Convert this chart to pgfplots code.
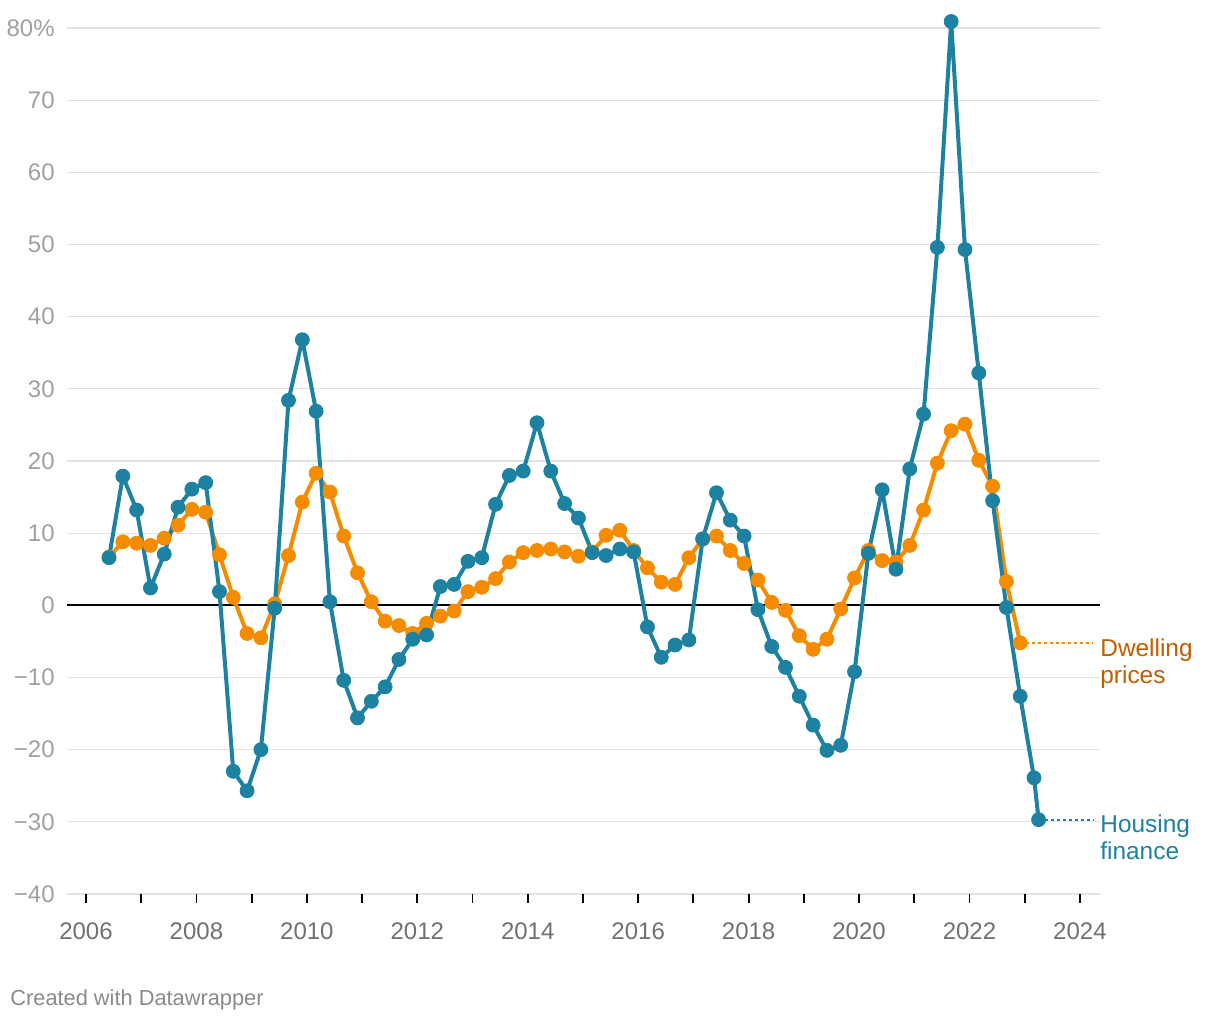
\documentclass[border=0pt]{standalone}
\usepackage{pgfplots}
\pgfplotsset{compat=1.18}
\usepackage{pgfplotstable}
\usepackage{fontspec}
\setmainfont{Liberation Sans}
\definecolor{hblue}{HTML}{1D81A2}
\definecolor{dorange}{HTML}{F58C00}
\definecolor{dtext}{HTML}{C45C00}
\definecolor{gridc}{HTML}{E2E2E2}
\definecolor{ylab}{HTML}{A0A0A0}
\definecolor{xlab}{HTML}{707070}
\definecolor{credit}{HTML}{8A8A8A}

\pgfplotstableread{
x y
2006.417 6.6
2006.667 17.9
2006.917 13.2
2007.167 2.4
2007.417 7.1
2007.667 13.6
2007.917 16.1
2008.167 17.0
2008.417 1.9
2008.667 -23.0
2008.917 -25.7
2009.167 -20.0
2009.417 -0.4
2009.667 28.4
2009.917 36.8
2010.167 26.9
2010.417 0.5
2010.667 -10.4
2010.917 -15.6
2011.167 -13.3
2011.417 -11.3
2011.667 -7.5
2011.917 -4.7
2012.167 -4.1
2012.417 2.6
2012.667 2.9
2012.917 6.1
2013.167 6.6
2013.417 14.0
2013.667 18.0
2013.917 18.6
2014.167 25.3
2014.417 18.6
2014.667 14.1
2014.917 12.1
2015.167 7.3
2015.417 6.9
2015.667 7.8
2015.917 7.4
2016.167 -3.0
2016.417 -7.2
2016.667 -5.5
2016.917 -4.8
2017.167 9.2
2017.417 15.6
2017.667 11.8
2017.917 9.6
2018.167 -0.6
2018.417 -5.7
2018.667 -8.6
2018.917 -12.6
2019.167 -16.6
2019.417 -20.1
2019.667 -19.4
2019.917 -9.2
2020.167 7.2
2020.417 16.0
2020.667 5.0
2020.917 18.9
2021.167 26.5
2021.417 49.6
2021.667 80.9
2021.917 49.3
2022.167 32.2
2022.417 14.5
2022.667 -0.3
2022.917 -12.6
2023.167 -23.9
2023.250 -29.7
}\housing

\pgfplotstableread{
x y
2006.417 6.7
2006.667 8.8
2006.917 8.6
2007.167 8.3
2007.417 9.3
2007.667 11.1
2007.917 13.3
2008.167 12.9
2008.417 7.0
2008.667 1.1
2008.917 -3.9
2009.167 -4.5
2009.417 0.2
2009.667 6.9
2009.917 14.3
2010.167 18.3
2010.417 15.7
2010.667 9.6
2010.917 4.5
2011.167 0.5
2011.417 -2.2
2011.667 -2.8
2011.917 -3.9
2012.167 -2.5
2012.417 -1.5
2012.667 -0.8
2012.917 1.9
2013.167 2.5
2013.417 3.7
2013.667 6.0
2013.917 7.3
2014.167 7.6
2014.417 7.8
2014.667 7.4
2014.917 6.8
2015.167 7.4
2015.417 9.7
2015.667 10.4
2015.917 7.6
2016.167 5.2
2016.417 3.2
2016.667 2.9
2016.917 6.6
2017.167 9.2
2017.417 9.6
2017.667 7.6
2017.917 5.8
2018.167 3.5
2018.417 0.4
2018.667 -0.7
2018.917 -4.2
2019.167 -6.1
2019.417 -4.7
2019.667 -0.5
2019.917 3.8
2020.167 7.6
2020.417 6.2
2020.667 6.0
2020.917 8.3
2021.167 13.2
2021.417 19.7
2021.667 24.2
2021.917 25.1
2022.167 20.1
2022.417 16.5
2022.667 3.3
2022.917 -5.2
}\dwelling

\begin{document}
\begin{tikzpicture}
\useasboundingbox (0,0) rectangle (610pt,510pt);
\begin{axis}[
  at={(33.5pt,63pt)}, anchor=south west,
  scale only axis, width=516.5pt, height=433pt,
  xmin=2005.656, xmax=2024.362, ymin=-40, ymax=80,
  clip=false,
  axis line style={draw=none},
  xtick={2006,...,2024},
  xticklabels={2006,,2008,,2010,,2012,,2014,,2016,,2018,,2020,,2022,,2024},
  ytick={-40,-30,...,80},
  yticklabels={−40,−30,−20,−10,0,10,20,30,40,50,60,70,80\%},
  ymajorgrids, grid style={gridc, line width=0.6pt},
  xtick pos=bottom, tick align=outside, major tick length=4.5pt,
  xtick style={black, line width=0.9pt},
  ytick style={draw=none},
  tick label style={font=\fontsize{12}{14}\selectfont},
  yticklabel style={ylab, anchor=east, inner sep=0pt, xshift=-1.5pt},
  xticklabel style={xlab, anchor=base, inner sep=0pt, yshift=-18.5pt},
  /pgf/number format/assume math mode=true,
]
\addplot[black, line width=0.85pt, forget plot] coordinates {(2005.656,0) (2024.362,0)};
% connectors
\addplot[dorange, line width=0.9pt, dash pattern=on 1.6pt off 1.4pt, forget plot] coordinates {(2022.917,-5.2) (2024.24,-5.2)};
\addplot[hblue, line width=0.9pt, dash pattern=on 1.6pt off 1.4pt, forget plot] coordinates {(2023.250,-29.7) (2024.24,-29.7)};
% lines
\addplot[dorange, line width=2pt, line join=round, no marks] table[x=x,y=y] {\dwelling};
\addplot[hblue, line width=2pt, line join=round, no marks] table[x=x,y=y] {\housing};
% marks
\addplot[only marks, mark=*, mark size=3.5pt, mark options={draw=dorange, fill=dorange, line width=0.4pt}] table[x=x,y=y] {\dwelling};
\addplot[only marks, mark=*, mark size=3.5pt, mark options={draw=hblue, fill=hblue, line width=0.4pt}] table[x=x,y=y] {\housing};
% labels
\node[anchor=base west, inner sep=0pt, text=dtext, font=\fontsize{12.2}{15}\selectfont] at (axis cs:2024.362,-5.2) [yshift=-6.8pt] {Dwelling};
\node[anchor=base west, inner sep=0pt, text=dtext, font=\fontsize{12.2}{15}\selectfont] at (axis cs:2024.362,-5.2) [yshift=-20.1pt] {prices};
\node[anchor=base west, inner sep=0pt, text=hblue, font=\fontsize{12.2}{15}\selectfont] at (axis cs:2024.362,-29.7) [yshift=-6.4pt] {Housing};
\node[anchor=base west, inner sep=0pt, text=hblue, font=\fontsize{12.2}{15}\selectfont] at (axis cs:2024.362,-29.7) [yshift=-19.7pt] {finance};
\end{axis}
\node[anchor=base west, inner sep=0pt, text=credit, font=\fontsize{10.9}{12}\selectfont] at (5pt,7pt) {Created with Datawrapper};
\end{tikzpicture}
\end{document}
